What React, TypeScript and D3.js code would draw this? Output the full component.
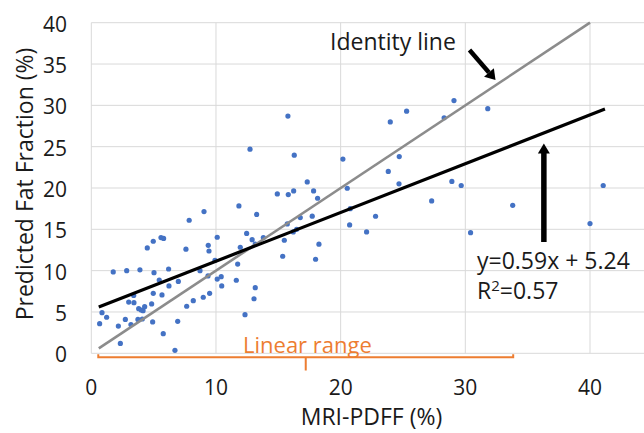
import React from "react";
import * as d3 from "d3";

// MRI-PDFF (%) values
const pdff = [
  0.67, 0.86, 1.23, 1.76, 2.17, 2.33, 2.73, 2.84, 3.0, 3.18, 3.4, 3.42, 3.74, 3.8, 3.9, 4.0, 4.09, 4.15, 4.28, 4.49,
  4.84, 4.92, 4.97, 4.97, 5.03, 5.45, 5.59, 5.67, 5.77, 5.8, 6.2, 6.23, 6.71, 6.93, 6.98, 7.59, 7.65, 7.85, 8.18, 8.72,
  8.98, 9.04, 9.36, 9.38, 9.44, 9.49, 9.92, 10.1, 10.1, 10.42, 10.46,
  11.63, 11.74, 11.84, 11.95, 12.33, 12.46, 12.73, 12.9, 13.05, 13.15, 13.15, 13.26, 13.8, 14.92, 15.35, 15.48, 15.72,
  15.77, 15.8, 16.2, 16.23, 16.28, 16.47, 16.76, 17.32, 17.72, 17.83, 17.99, 18.15, 18.26,
  20.18, 20.53, 20.72, 20.77, 22.08, 22.8, 23.82, 23.98, 24.68, 24.7, 25.29, 27.3, 28.3, 28.92, 29.09, 29.67, 30.42,
  31.8, 33.8, 40.0, 41.06,
];
// Predicted fat fraction (%) values
const predicted = [
  3.58, 4.92, 4.36, 9.84, 3.3, 1.2, 4.1, 10.0, 6.2, 3.47, 7.0, 6.13, 4.1, 5.4, 10.1, 5.24, 4.15, 5.16, 5.64, 12.75,
  5.97, 3.8, 13.56, 7.26, 9.76, 8.87, 14.0, 7.06, 2.38, 13.9, 10.2, 8.15, 0.36, 3.87, 8.7, 12.6, 5.69, 16.1, 6.37, 10.0,
  6.78, 17.15, 9.36, 13.07, 12.38, 7.26, 11.26, 8.98, 14.04, 9.27, 8.15,
  8.84, 10.8, 17.83, 12.83, 4.67, 14.5, 24.7, 13.75, 6.6, 13.2, 7.94, 16.8, 14.0, 19.28, 11.74, 13.68, 15.65,
  28.7, 19.2, 14.69, 19.65, 23.97, 15.0, 16.42, 20.74, 16.59, 19.65, 11.38, 18.76, 13.2,
  23.5, 19.97, 15.53, 17.5, 14.69, 16.58, 22.0, 28.0, 20.5, 23.8, 29.3, 18.44, 28.5, 20.8, 30.58, 20.3, 14.6,
  29.6, 17.9, 15.7, 20.3,
];

const xTicks = [0, 10, 20, 30, 40];
const yTicks = [0, 5, 10, 15, 20, 25, 30, 35, 40];

const slope = 0.59;
const intercept = 5.24;
const fitRange = [0.6, 41.2];
const identityRange = [0.6, 40];
const linearRange = [0.56, 33.84];

const FONT = "'Open Sans', Lato, sans-serif";

export default function App() {
  const x = d3.scaleLinear().domain([0, 40]).range([91.3, 590]);
  const y = d3.scaleLinear().domain([0, 40]).range([353.3, 22.7]);
  const W = 644;
  const H = 433;
  const line = d3.line<[number, number]>().x((d) => x(d[0])).y((d) => y(d[1]));

  const fitPts: [number, number][] = fitRange.map((v) => [v, slope * v + intercept]);
  const idPts: [number, number][] = identityRange.map((v) => [v, v]);

  // bracket
  const bxL = x(linearRange[0]);
  const bxR = x(linearRange[1]);
  const bxM = (bxL + bxR) / 2;
  const by = 357.3;

  // vertical arrow (regression)
  const ax = x(36.3);
  const aTop = 143.5;
  const aBot = 242;

  // identity arrow
  const iax1 = 469.5, iay1 = 50, iax2 = 495.5, iay2 = 80;
  const ang = Math.atan2(iay2 - iay1, iax2 - iax1);
  const hl = 10, hw = 6.5;
  const bxh = iax2 - hl * Math.cos(ang), byh = iay2 - hl * Math.sin(ang);
  const px = -Math.sin(ang), py = Math.cos(ang);

  const txt = "#1a1a1a";

  return (
    <svg width={W} height={H} style={{ position: "absolute", left: 0, top: 0, background: "#fff" }} fontFamily={FONT}>
      <rect width={W} height={H} fill="#fff" />
      {/* grid */}
      {yTicks.map((t) => (
        <line key={"gy" + t} x1={x(0)} x2={W} y1={y(t)} y2={y(t)} stroke="#d9d9d9" strokeWidth={1} />
      ))}
      {xTicks.map((t) => (
        <line key={"gx" + t} x1={x(t)} x2={x(t)} y1={y(0)} y2={y(40)} stroke="#d9d9d9" strokeWidth={1} />
      ))}
      {/* tick labels */}
      {yTicks.map((t) => (
        <text key={"ty" + t} x={67} y={y(t) + 9} textAnchor="end" fontSize={21} fill={txt}>
          {t}
        </text>
      ))}
      {xTicks.map((t) => (
        <text key={"tx" + t} x={x(t)} y={395} textAnchor="middle" fontSize={21} fill={txt}>
          {t}
        </text>
      ))}
      {/* axis titles */}
      <text x={371.5} y={425} textAnchor="middle" fontSize={23} fill={txt}>
        MRI-PDFF (%)
      </text>
      <text transform={`translate(33,184) rotate(-90)`} textAnchor="middle" fontSize={23} fill={txt}>
        Predicted Fat Fraction (%)
      </text>
      {/* points */}
      {pdff.map((v, i) => (
        <circle key={"p" + i} cx={x(v)} cy={y(predicted[i])} r={2.6} fill="#4472c4" />
      ))}
      {/* identity line */}
      <path d={line(idPts) || ""} stroke="#8c8c8c" strokeWidth={2.6} fill="none" />
      {/* fit line */}
      <path d={line(fitPts) || ""} stroke="#000" strokeWidth={3.2} fill="none" />
      {/* linear range bracket */}
      <path
        d={`M${bxL},${by - 3}V${by}H${bxR}V${by - 3}M${bxM},${by}V${370.5}`}
        stroke="#ed7d31"
        strokeWidth={2}
        fill="none"
      />
      <text x={243} y={352.5} fontSize={22} fill="#ed7d31">
        Linear range
      </text>
      {/* identity annotation */}
      <text x={330} y={50} fontSize={23} fill={txt}>
        Identity line
      </text>
      <line x1={iax1} y1={iay1} x2={bxh} y2={byh} stroke="#000" strokeWidth={4.5} />
      <path
        d={`M${iax2},${iay2}L${bxh + px * hw},${byh + py * hw}L${bxh - px * hw},${byh - py * hw}Z`}
        fill="#000"
      />
      {/* regression annotation */}
      <line x1={ax} y1={aBot} x2={ax} y2={aTop + 9} stroke="#000" strokeWidth={5.5} />
      <path d={`M${ax},${aTop}L${ax - 6},${aTop + 10}L${ax + 6},${aTop + 10}Z`} fill="#000" />
      <text x={477} y={268.5} fontSize={23} fill={txt}>
        y=0.59x + 5.24
      </text>
      <text x={477} y={298.5} fontSize={23} fill={txt}>
        R<tspan dy={-8} fontSize={15}>2</tspan>
        <tspan dy={8}>=0.57</tspan>
      </text>
    </svg>
  );
}
